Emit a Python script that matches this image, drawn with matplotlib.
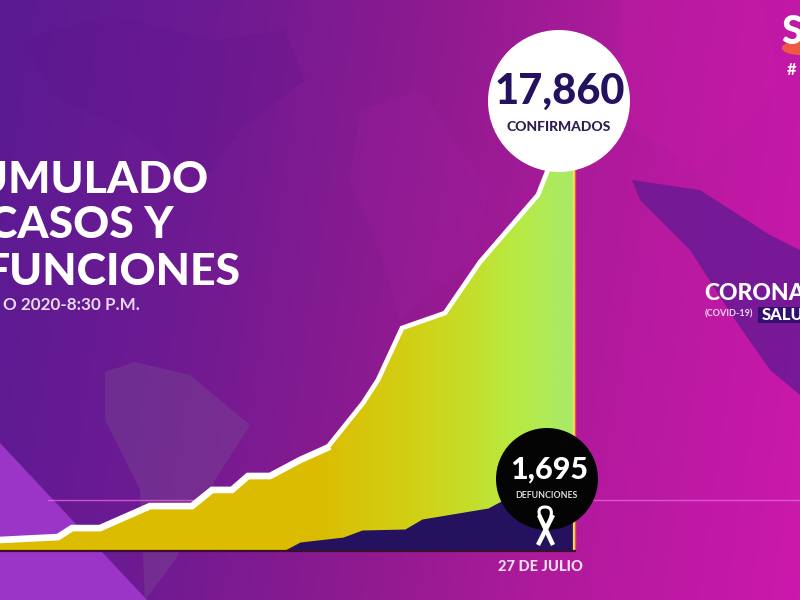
import numpy as np
import matplotlib
matplotlib.use("Agg")
import matplotlib.pyplot as plt
from matplotlib.colors import LinearSegmentedColormap
from matplotlib.patches import Circle, Polygon, Rectangle, PathPatch, Ellipse
from matplotlib.path import Path

plt.rcParams['font.family'] = ['Lato', 'DejaVu Sans']

# Data (x = horizontal position along the time axis)
case_pos = [0, 58, 72, 100, 150, 192, 212, 232, 248, 270, 300, 327, 363, 378, 402, 445, 480, 538, 547, 556, 575]
cases = [490, 620, 1020, 1020, 2000, 2000, 2720, 2720, 3340, 3340, 4050, 4590, 6590, 7620, 9930, 10600, 12870, 15860, 16880, 17860, 17860]
death_pos = [283, 300, 343, 362, 405, 422, 488, 503, 540, 575]
deaths = [0, 400, 620, 935, 980, 1425, 1915, 2270, 2600, 2900]
total_label = "17,860"
total_caption = "CONFIRMADOS"
death_label = "1,695"
death_caption = "DEFUNCIONES"
date_label = "27 DE JULIO"

W, H = 800, 600
fig = plt.figure(figsize=(8, 6), dpi=100)

bg = fig.add_axes([0, 0, 1, 1], zorder=0)
bg.set_xlim(0, W); bg.set_ylim(H, 0); bg.axis('off')
bg_cmap = LinearSegmentedColormap.from_list('bg', [(0, '#5a1a92'), (0.25, '#6e1a92'), (0.5, '#8f1a90'),
                                                 (0.72, '#b01a9c'), (1, '#cc18ac')])
xx, yy = np.meshgrid(np.linspace(0, 1, 400), np.linspace(0, 1, 300))
bg.imshow(xx * 0.9 + yy * 0.1, cmap=bg_cmap, extent=(0, W, H, 0), aspect='auto', vmin=0, vmax=1, zorder=0)

bg.add_patch(Polygon([(0, 443), (147, 600), (0, 600)], fc='#9a35c8', ec='none', zorder=1))

for pts, c, a in [
    ([(105, 372), (135, 362), (190, 375), (250, 425), (215, 480), (175, 560), (145, 600), (140, 490), (105, 420)], '#7a4a90', 0.4),
    ([(20, 40), (110, 15), (215, 40), (285, 30), (305, 80), (240, 130), (200, 185), (130, 130), (60, 100)], '#5c1488', 0.18),
    ([(360, 110), (420, 90), (490, 190), (470, 260), (400, 320), (380, 250), (350, 180)], '#a01ea0', 0.25),
    ([(620, 0), (760, 0), (780, 80), (700, 170), (620, 120)], '#d81fb0', 0.15),
    ([(632, 180), (700, 190), (770, 235), (800, 250), (800, 395), (770, 370), (735, 320), (690, 250), (640, 200)], '#6a1a94', 0.85),
]:
    bg.add_patch(Polygon(pts, fc=c, ec='none', alpha=a, zorder=2))

bg.plot([48, 800], [500, 500], color='#e860e0', lw=1, alpha=0.8, zorder=3)

# chart axes: baseline at pixel 551, 17,860 at pixel 150
ax = fig.add_axes([0, (H - 551) / H, 575 / W, (551 - 150) / H], zorder=2)
ax.patch.set_alpha(0)

fill_cmap = LinearSegmentedColormap.from_list('fill', [(0, '#dcbc00'), (0.55, '#dcbc00'), (0.75, '#cfd41a'),
                                                   (0.9, '#b8ea42'), (1, '#a8ea6a')])
im = ax.imshow(np.linspace(0, 1, 256).reshape(1, -1), cmap=fill_cmap, extent=(0, 575, 0, 17860), aspect='auto', zorder=1)
ax.set_xlim(0, 575); ax.set_ylim(0, 17860); ax.axis('off')
area = np.column_stack([case_pos + [575, 0], cases + [0, 0]])
clip = Polygon(area, closed=True, transform=ax.transData, fc='none', ec='none')
ax.add_patch(clip)
im.set_clip_path(clip)

ax.fill_between(death_pos, deaths, 0, color='#24125e', lw=0, zorder=2)
n_low = case_pos.index(327) + 1
ax.plot(case_pos[:n_low], cases[:n_low], color='white', lw=4.8, solid_joinstyle='miter', zorder=4)
ax.plot(case_pos[n_low - 1:-1], cases[n_low - 1:-1], color='white', lw=3.4, solid_joinstyle='miter', zorder=4)
ax.plot([573.5, 573.5], [0, 17860], color='#f6e070', lw=1.6, zorder=3)
ax.plot([575, 575], [0, 17860], color='#ef5a30', lw=1.0, zorder=3, clip_on=False)
ax.plot([0, 575], [0, 0], color='#3a1030', lw=1.6, zorder=3, clip_on=False)

ov = fig.add_axes([0, 0, 1, 1], zorder=3)
ov.set_xlim(0, W); ov.set_ylim(H, 0); ov.axis('off'); ov.patch.set_alpha(0)
ov.add_patch(Circle((559, 101), 71, fc='white', ec='none'))
ov.add_patch(Circle((547, 479), 51, fc='#040404', ec='none'))
ov.text(560, 92, total_label, fontsize=30, fontweight='black', color='#24125e', ha='center', va='center')
ov.text(559, 127, total_caption, fontsize=10, fontweight='black', color='#2e2050', ha='center', va='center')
ov.text(549, 470, death_label, fontsize=22, fontweight='black', color='white', ha='center', va='center')
ov.text(546, 496, death_caption, fontsize=6.3, fontweight='bold', color='#dddddd', ha='center', va='center')
ov.text(540, 567, date_label, fontsize=10.5, fontweight='black', color='#f2dfee', ha='center', va='center')

# ribbon
loop = Path([(546, 527), (534, 510), (540, 507), (545, 507), (550, 507), (556, 510), (546, 527)],
            [Path.MOVETO, Path.CURVE4, Path.CURVE4, Path.CURVE4, Path.CURVE4, Path.CURVE4, Path.CURVE4])
ov.add_patch(PathPatch(loop, fc='none', ec='white', lw=2.2))
ov.plot([539, 553], [515, 545], color='white', lw=3.2, solid_capstyle='butt')
ov.plot([553, 538], [515, 545], color='white', lw=3.2, solid_capstyle='butt')

# titles cut by the frame at the left
for txt, x, y, fs in [("UMULADO", 208, 180, 32), ("CASOS Y", 173, 225, 32), ("FUNCIONES", 241, 272, 32)]:
    ov.text(x, y, txt, fontsize=fs, fontweight='black', color='white', ha='right', va='center', clip_on=True)
ov.text(140, 305, "O 2020-8:30 P.M.", fontsize=12.3, fontweight='bold', color='#e8d8ec', ha='right', va='center', clip_on=True)

ov.add_patch(Rectangle((758, 307), 42, 16, fc='#331070', ec='none'))
ov.text(704, 294, "CORONA", fontsize=16.5, fontweight='black', color='white', ha='left', va='center', clip_on=True)
ov.text(705, 314, "(COVID-19)", fontsize=6.6, fontweight='bold', color='#f0d8f0', ha='left', va='center')
ov.text(762, 315, "SALUD", fontsize=12, fontweight='black', color='white', ha='left', va='center', clip_on=True)
ov.add_patch(Ellipse((800, 48), 36, 14, fc='#ee5a40', ec='none'))
ov.text(781, 33, "S", fontsize=28, fontweight='black', color='white', ha='left', va='center', clip_on=True)
ov.text(787, 70, "#", fontsize=12, fontweight='bold', color='white', ha='left', va='center', clip_on=True)

fig.savefig('out.png', dpi=100)
